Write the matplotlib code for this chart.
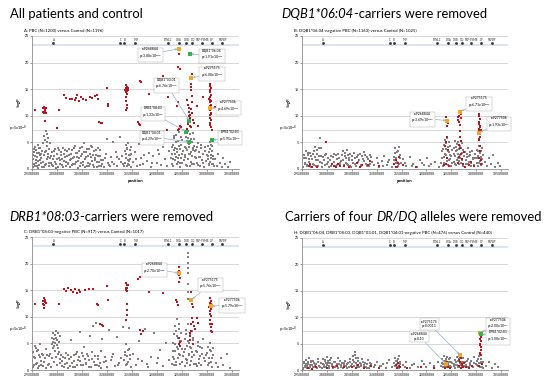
import matplotlib
matplotlib.use('Agg')
import matplotlib.pyplot as plt
import matplotlib.transforms as mtransforms

# ---- data (position in Mb, -log10 p) ----
gray_a = [(29.52,0.3),(29.53,1.8),(29.54,3.2),(29.55,0.9),(29.56,2.5),(29.57,4.1),(29.58,1.2),(29.59,3.6),(29.60,0.5),(29.61,2.2),
          (29.62,4.6),(29.63,1.5),(29.64,3.0),(29.65,0.8),(29.66,2.7),(29.67,3.9),(29.68,1.1),(29.69,2.0),(29.70,0.4),(29.71,3.3),
          (29.72,1.4),(29.73,4.8),(29.74,2.6),(29.75,6.2),(29.76,0.7),(29.77,5.5),(29.78,3.4),(29.79,7.1),(29.80,1.9),(29.80,6.6),
          (29.81,4.3),(29.82,2.8),(29.83,5.9),(29.84,0.6),(29.85,3.7),(29.86,2.1),(29.87,4.9),
          (29.89,1.2),(29.91,3.1),(29.93,0.5),(29.95,2.4),(29.97,3.8),(29.99,1.0),(30.01,2.9),(30.03,0.3),(30.05,3.5),(30.07,1.7),
          (30.09,2.6),(30.11,0.8),(30.13,4.0),(30.15,1.5),(30.17,2.2),(30.19,0.6),(30.21,3.3),(30.23,1.1),(30.25,2.7),(30.27,0.4),(30.29,1.9),
          (30.31,3.6),(30.33,0.9),(30.35,2.3),(30.37,4.4),(30.39,1.4),(30.41,3.0),(30.43,0.2),(30.45,2.0),(30.47,3.9),(30.49,1.2),
          (30.51,2.8),(30.53,0.7),(30.55,4.8),(30.57,1.8),(30.59,3.2),(30.61,0.5),(30.63,2.5),(30.65,3.7),(30.67,1.0),(30.69,2.2),
          (30.71,4.1),(30.73,0.8),(30.75,3.4),(30.77,1.6),(30.79,2.6),(30.81,0.3),(30.83,3.9),(30.85,1.3),(30.87,2.4),(30.89,0.6),
          (30.92,1.7),(30.95,0.4),(30.98,2.9),(31.01,5.6),(31.03,1.2),(31.06,0.6),(31.09,2.3),(31.12,5.1),(31.15,1.0),(31.18,3.1),
          (31.21,0.5),(31.24,1.8),(31.27,6.0),(31.30,2.5),(31.33,0.9),
          (31.36,3.3),(31.37,1.2),(31.38,4.6),(31.39,2.1),(31.40,0.5),(31.41,3.8),(31.42,1.6),(31.43,4.9),(31.44,2.7),(31.45,0.8),
          (31.46,3.5),(31.47,1.9),(31.48,2.9),(31.49,0.4),
          (31.52,1.3),(31.56,3.2),(31.60,0.6),(31.64,4.7),(31.68,2.0),(31.72,0.9),(31.76,5.8),(31.80,1.5),(31.84,3.0),(31.88,0.4),
          (31.92,2.4),(31.96,6.3),(32.00,1.1),(32.04,2.8),(32.08,0.7),(32.12,4.2),(32.16,1.8),(32.20,0.5),(32.24,3.4),
          (32.30,1.0),(32.31,2.9),(32.32,4.6),(32.33,0.6),(32.34,3.5),(32.35,5.8),(32.36,1.7),(32.37,4.0),(32.38,2.3),(32.39,6.4),
          (32.40,0.9),(32.41,3.1),(32.42,5.2),(32.43,1.4),(32.44,2.6),(32.45,6.9),(32.46,3.8),(32.47,0.3),(32.48,4.5),(32.49,2.0),
          (32.50,5.5),(32.51,1.2),(32.52,3.3),
          (32.55,1.6),(32.56,4.2),(32.57,2.7),(32.58,6.1),(32.59,0.8),(32.60,3.6),(32.61,5.3),(32.62,1.9),(32.63,7.2),(32.64,2.9),
          (32.65,4.7),(32.66,0.5),(32.67,6.5),(32.68,3.2),(32.69,1.3),(32.70,5.0),(32.71,2.4),(32.72,6.8),(32.73,3.9),(32.74,1.0),
          (32.75,4.4),(32.76,2.2),
          (32.78,3.5),(32.80,1.1),(32.82,4.8),(32.84,2.3),(32.86,0.6),(32.88,3.9),(32.90,1.7),(32.92,2.9),(32.94,0.4),(32.96,4.2),
          (32.98,1.5),(33.00,2.6),
          (33.02,1.9),(33.03,4.3),(33.04,0.7),(33.05,3.1),(33.06,5.0),(33.07,1.3),(33.08,2.7),(33.09,4.6),(33.10,0.9),(33.11,3.4),
          (33.12,1.8),(33.13,2.4),(33.14,0.5),
          (33.17,1.9),(33.20,0.6),(33.23,2.8),(33.26,1.2),(33.30,0.4),(33.33,2.1),(33.37,1.0),(33.42,0.3),(33.47,1.4),
          (29.51,1.1),(29.53,2.6),(29.55,3.8),(29.57,0.6),(29.59,1.7),(29.61,3.0),(29.63,0.2),(29.65,4.0),(29.67,1.6),(29.69,2.9),
          (29.74,0.3),(29.76,3.1),(29.78,1.0),(29.81,5.0),(29.83,2.3),(29.85,1.2),(29.88,2.5),(29.90,0.8),(29.92,1.9),(29.94,3.4),
          (29.96,1.3),(29.98,0.2),(30.00,1.8),(30.02,3.9),(30.04,2.0),(30.06,0.9),(30.08,3.2),(30.10,1.9),(30.12,0.3),(30.14,2.8),
          (30.16,3.6),(30.18,1.4),(30.20,2.5),(30.22,0.9),(30.24,3.7),(30.26,1.6),(30.28,2.9),(30.30,0.7),(30.32,2.1),(30.34,4.0),
          (30.36,1.0),(30.38,3.0),(30.40,2.2),(30.42,1.5),(30.44,3.4),(30.46,0.6),(30.48,2.5),(30.50,4.2),(30.52,1.4),(30.54,3.1),
          (30.56,0.4),(30.58,2.2),(30.60,3.8),(30.62,1.2),(30.64,0.6),(30.66,2.9),(30.68,4.3),(30.70,1.5),(30.72,2.7),(30.74,0.3),
          (30.76,2.0),(30.78,3.5),(30.80,1.3),(30.82,2.4),(30.84,0.5),(30.86,3.6),(30.88,1.7),(30.90,0.9),(30.96,2.0),(31.04,0.8),
          (31.10,1.4),(31.20,2.2),(31.28,1.3),(31.35,0.6),(31.38,2.8),(31.40,3.9),(31.42,0.9),(31.44,1.5),(31.46,2.6),(31.48,4.1),
          (31.58,1.9),(31.66,0.8),(31.74,2.6),(31.90,1.2),(32.02,3.5),(32.28,2.0),(32.30,4.1),(32.32,1.8),(32.34,6.2),(32.36,2.9),
          (32.38,5.0),(32.40,3.8),(32.42,2.0),(32.44,4.4),(32.46,1.1),(32.48,6.0),(32.50,2.8),(32.56,2.2),(32.58,3.9),(32.60,0.5),
          (32.62,5.8),(32.64,4.1),(32.66,2.8),(32.68,5.6),(32.70,0.9),(32.72,3.6),(32.74,5.7),(32.76,3.4),(32.79,2.0),(32.81,4.1),
          (32.83,0.8),(32.85,3.1),(32.87,2.2),(32.89,4.5),(32.93,1.2),(32.97,3.3),(33.03,2.5),(33.05,1.0),(33.07,3.8),(33.09,2.1),
          (33.11,4.4),(33.13,0.9)]

red_a = [(29.57,11.1),(29.72,11.4),(29.73,10.8),(29.74,11.6),(29.75,10.5),(29.76,11.2),(29.77,10.9),(29.78,11.5),(29.79,10.6),
         (29.77,9.0),(30.05,11.1),(30.00,7.7),
         (30.14,14.0),(30.19,13.3),(30.26,13.1),(30.31,13.2),(30.36,12.9),(30.39,13.4),(30.40,13.9),(30.44,12.8),(30.48,13.6),
         (30.53,13.1),(30.58,12.9),(30.66,13.5),(30.71,13.4),(30.76,13.8),(30.80,14.0),(30.82,13.2),
         (31.03,12.2),(31.00,15.3),(31.02,11.8),(30.84,8.8),(30.88,8.7),(30.91,8.6),
         (31.38,15.7),(31.39,15.3),(31.40,15.0),(31.41,14.7),(31.39,14.4),(31.40,14.1),(31.41,15.5),(31.42,14.9),(31.38,13.5),
         (31.39,12.8),(31.40,12.0),(31.41,11.4),(31.39,11.0),(31.43,15.2),(31.37,14.8),
         (31.67,16.6),(31.69,16.4),(31.63,8.8),(31.65,8.5),(31.67,8.2),(31.85,14.1),(32.13,17.5),(32.20,7.4),(32.22,13.5),
         (32.43,19.1),(32.44,22.8),(32.45,21.6),(32.46,18.8),(32.40,11.8),(32.42,12.5),(32.44,7.6),(32.46,8.1),(32.48,7.9),(32.42,7.4),
         (32.60,12.9),(32.62,12.0),(32.64,11.4),(32.65,10.8),(32.66,10.2),(32.67,9.6),(32.63,8.5),(32.66,8.0),(32.68,7.8),(32.70,10.5),
         (32.69,11.2),(32.71,12.6),(32.70,13.8),(32.69,14.9),(32.72,9.2),(32.74,8.6),(32.61,7.5),(32.64,9.9),(32.68,15.9),(32.71,17.9),
         (32.69,15.4),(32.83,8.1),(32.80,11.8),(32.93,13.6),
         (33.06,16.0),(33.07,15.6),(33.08,15.2),(33.06,14.8),(33.07,14.4),(33.08,14.0),(33.07,13.6),(33.06,12.9),(33.07,12.5),
         (33.08,12.1),(33.06,11.8),(33.07,11.0),(33.08,10.6),(33.06,10.1),(33.07,9.6),(33.08,9.2),(33.06,8.7),(33.07,8.3),
         (33.09,7.8),(33.05,13.2),(33.09,12.8),(33.05,11.3),(33.09,10.3),(33.16,11.6),(33.10,7.3)]

gray_b = [(29.52,0.4),(29.54,2.1),(29.56,1.0),(29.58,3.3),(29.60,0.6),(29.62,2.6),(29.64,1.4),(29.66,3.0),(29.68,0.3),(29.70,1.9),
          (29.73,2.8),(29.75,0.8),(29.77,4.2),(29.79,1.6),(29.81,3.5),(29.83,0.5),(29.85,2.4),(29.87,5.8),(29.88,3.9),(29.90,1.1),
          (29.93,2.2),(29.96,0.7),(29.99,2.9),(30.02,1.3),(30.05,0.4),(30.08,2.5),(30.11,1.0),(30.14,2.8),(30.17,0.6),(30.20,1.8),
          (30.23,2.9),(30.26,0.9),(30.29,1.5),(30.32,3.3),(30.34,0.5),(30.36,2.4),(30.38,1.2),(30.40,3.6),(30.42,0.8),(30.44,2.0),
          (30.46,2.9),(30.48,0.4),(30.51,1.7),(30.54,3.0),(30.57,0.9),(30.60,2.3),(30.63,1.3),(30.66,2.8),(30.69,0.5),(30.72,1.9),
          (30.75,3.1),(30.78,1.0),(30.81,2.2),(30.84,0.6),(30.87,2.7),(30.90,1.4),
          (30.95,0.7),(31.00,2.0),(31.05,0.4),(31.10,1.5),(31.15,2.4),(31.20,0.8),(31.25,1.7),(31.30,0.3),
          (31.34,2.3),(31.36,3.9),(31.38,1.1),(31.40,3.2),(31.42,0.6),(31.44,4.1),(31.46,2.0),(31.48,1.2),
          (31.53,1.8),(31.60,0.5),(31.67,2.3),(31.74,1.0),(31.81,0.4),(31.88,1.6),(31.95,0.7),(32.02,2.0),(32.10,0.9),(32.18,1.4),(32.25,0.3),
          (32.30,1.2),(32.32,3.4),(32.33,0.6),(32.35,4.6),(32.36,2.2),(32.37,5.4),(32.38,1.0),(32.39,3.8),(32.40,2.7),(32.41,5.9),
          (32.42,1.5),(32.43,4.2),(32.44,0.8),(32.45,3.1),(32.46,5.0),(32.47,1.9),(32.48,2.6),(32.50,0.5),(32.52,3.5),
          (32.55,1.3),(32.56,4.0),(32.57,2.4),(32.58,5.3),(32.59,0.7),(32.60,3.3),(32.61,4.7),(32.62,1.6),(32.63,2.9),(32.64,5.1),
          (32.65,0.9),(32.66,3.7),(32.67,2.0),(32.68,4.4),(32.70,1.1),(32.71,3.0),(32.72,4.9),(32.73,0.6),(32.75,2.5),
          (32.78,3.2),(32.80,0.9),(32.82,2.3),(32.84,3.9),(32.86,1.3),(32.88,2.7),(32.90,0.5),(32.92,3.4),(32.94,1.8),(32.96,0.7),(32.98,2.1),
          (33.01,1.2),(33.02,3.6),(33.03,0.6),(33.04,2.4),(33.05,4.3),(33.07,1.5),(33.08,3.0),(33.09,0.8),(33.10,2.2),(33.11,3.9),
          (33.12,1.0),(33.13,2.6),
          (33.17,1.3),(33.21,0.5),(33.25,2.0),(33.29,0.9),(33.33,2.6),(33.38,0.4),(33.43,1.1),(33.48,0.6),
          (29.51,1.5),(29.53,0.4),(29.55,2.7),(29.57,1.2),(29.59,2.0),(29.61,0.8),(29.63,3.0),(29.65,1.8),(29.67,0.5),(29.69,2.4),
          (29.72,1.0),(29.74,3.4),(29.76,2.2),(29.78,0.6),(29.80,2.9),(29.82,1.7),(29.84,4.0),(29.86,1.3),(29.89,2.5),(29.91,0.4),
          (29.94,1.6),(29.97,2.6),(30.00,0.9),(30.03,2.1),(30.06,1.6),(30.09,0.5),(30.12,2.3),(30.15,1.4),(30.18,2.6),(30.21,0.7),
          (30.24,2.0),(30.27,1.1),(30.30,2.6),(30.33,1.7),(30.35,0.8),(30.37,3.0),(30.39,2.0),(30.41,1.0),(30.43,2.7),(30.45,1.6),
          (30.47,0.6),(30.50,2.4),(30.53,1.1),(30.56,2.1),(30.59,0.6),(30.62,2.6),(30.65,1.7),(30.68,0.8),(30.71,2.4),(30.74,1.5),
          (30.77,2.6),(30.80,0.5),(30.83,1.8),(30.86,0.9),(30.89,2.2),(31.02,1.2),(31.12,0.6),(31.22,1.4),(31.35,1.6),(31.37,3.0),
          (31.39,2.1),(31.41,1.3),(31.43,3.4),(31.45,0.9),(31.47,2.6),(31.57,1.2),(31.71,0.6),(31.92,1.1),(32.06,0.5),(32.31,2.0),
          (32.33,3.7),(32.35,1.1),(32.37,2.9),(32.39,4.9),(32.41,2.1),(32.43,3.3),(32.45,1.6),(32.47,4.4),(32.49,2.4),(32.51,1.2),
          (32.56,2.8),(32.58,1.0),(32.60,4.1),(32.62,3.5),(32.64,2.1),(32.66,1.5),(32.68,2.6),(32.70,4.0),(32.72,1.7),(32.74,3.6),
          (32.79,1.6),(32.81,2.9),(32.83,1.0),(32.85,2.4),(32.87,3.2),(32.89,1.2),(32.93,2.0),(32.97,2.9),(33.02,2.0),(33.04,3.3),
          (33.06,1.2),(33.08,2.1),(33.10,3.4),(33.12,1.8)]

red_b = [(29.64,0.5),(29.66,1.0),(29.80,0.3),(29.99,5.0),(30.14,0.6),(30.18,0.3),(30.22,1.0),(30.35,0.5),(30.60,1.2),(30.66,0.4),
         (30.82,0.8),(30.86,1.5),(31.05,0.5),(31.35,0.9),(31.38,1.6),(31.41,0.4),(31.44,2.2),(31.52,0.7),(31.80,0.3),
         (29.70,0.4),(30.10,0.9),(30.26,0.5),(30.45,0.3),(30.70,0.7),(31.39,0.3),(31.43,1.1),
         (32.40,9.8),(32.41,9.3),(32.43,8.6),(32.42,8.0),(32.41,6.1),(32.40,5.1),(32.38,4.3),(32.44,3.6),(32.42,2.1),(32.39,1.0),
         (32.45,0.5),(32.36,0.8),
         (32.63,9.8),(32.64,9.3),(32.65,8.8),(32.66,10.0),(32.70,10.4),(32.69,9.5),(32.68,8.3),(32.68,7.1),(32.67,6.0),(32.69,5.3),
         (32.66,4.6),(32.68,3.9),(32.70,2.8),(32.72,1.8),(32.65,2.3),(32.74,0.9),(32.76,3.1),(32.63,1.2),(32.78,0.4),
         (33.05,10.4),(33.06,9.9),(33.07,9.4),(33.05,8.9),(33.06,8.4),(33.07,8.0),(33.05,7.6),(33.06,7.1),(33.07,6.5),(33.08,6.1),
         (33.06,5.7),(33.05,5.4),(33.08,7.8),(33.04,6.8),(33.09,7.3),(33.07,4.4),(33.08,3.3),(33.06,2.1),(33.09,1.0),(33.10,1.6),
         (32.86,0.7),(32.90,1.3),(32.95,0.5)]

gray_c = [(29.52,0.6),(29.54,2.4),(29.56,4.6),(29.58,1.2),(29.60,3.5),(29.62,0.4),(29.64,2.8),(29.66,4.9),(29.68,1.6),(29.70,3.1),
          (29.73,0.8),(29.76,2.2),(29.79,3.9),(29.82,1.0),(29.85,2.6),(29.88,0.5),
          (29.90,4.8),(29.91,6.1),(29.92,5.3),(29.93,7.0),(29.94,5.8),(29.95,4.5),(29.96,6.6),(29.97,5.0),(29.98,7.3),(29.99,6.0),
          (30.00,4.7),(30.01,5.6),(30.02,6.9),(30.03,4.2),(30.04,5.2),(30.05,3.4),(30.06,6.3),(30.07,2.0),
          (30.10,0.7),(30.13,2.5),(30.16,1.1),(30.19,3.2),(30.22,0.4),(30.25,2.0),(30.28,5.7),(30.31,1.4),(30.34,2.9),(30.37,0.6),
          (30.40,3.4),(30.43,1.8),(30.46,7.1),(30.49,0.9),(30.52,2.6),(30.55,4.4),(30.58,1.3),(30.61,3.0),(30.64,0.5),(30.67,6.4),
          (30.70,2.1),(30.73,8.3),(30.76,1.0),(30.79,8.8),(30.82,2.7),(30.85,0.8),(30.88,3.5),(30.91,5.9),(30.94,1.5),(30.97,2.4),
          (31.00,0.6),(31.04,7.6),(31.08,1.9),(31.12,3.1),(31.16,0.7),(31.20,6.2),(31.24,1.4),(31.28,2.3),(31.32,8.1),
          (31.36,2.9),(31.38,4.8),(31.40,1.2),(31.42,3.8),(31.44,7.9),(31.46,2.0),(31.48,0.5),
          (31.52,3.0),(31.58,0.9),(31.64,5.4),(31.70,1.7),(31.76,7.8),(31.82,0.6),(31.88,2.5),(31.94,6.9),(32.00,1.3),(32.06,3.7),
          (32.12,0.8),(32.18,5.1),(32.24,1.9),
          (32.32,2.4),(32.33,5.1),(32.34,0.9),(32.35,6.8),(32.36,3.6),(32.37,8.2),(32.38,1.5),(32.39,7.4),(32.40,4.3),(32.41,9.6),
          (32.42,2.2),(32.43,6.1),(32.44,8.7),(32.45,3.0),(32.46,5.5),(32.47,1.1),(32.48,7.0),(32.50,4.0),(32.52,2.6),
          (32.55,3.3),(32.56,0.7),(32.57,5.9),(32.58,2.1),(32.59,7.6),(32.60,4.5),(32.61,1.4),(32.62,8.6),(32.63,13.4),(32.63,14.6),
          (32.63,16.1),(32.63,18.3),(32.63,19.2),(32.63,20.1),(32.63,21.2),(32.63,22.0),(32.64,5.0),(32.65,2.8),(32.66,6.5),(32.67,0.9),
          (32.68,4.1),(32.70,7.3),(32.71,2.4),(32.73,5.6),(32.75,1.2),
          (32.78,3.6),(32.80,0.8),(32.82,5.2),(32.84,2.1),(32.86,4.3),(32.88,1.0),(32.90,3.1),(32.93,5.9),(32.96,1.6),(32.99,2.8),
          (33.02,0.9),(33.03,4.4),(33.05,2.3),(33.06,5.0),(33.08,1.5),(33.09,3.6),(33.11,0.6),(33.13,2.9),
          (33.18,1.4),(33.23,0.5),(33.28,2.2),(33.33,0.9),(33.40,3.0),(33.46,0.4),
          (29.51,1.6),(29.53,3.3),(29.55,0.9),(29.57,2.2),(29.59,4.1),(29.61,1.4),(29.63,3.7),(29.65,0.7),(29.67,2.5),(29.69,1.0),
          (29.72,2.8),(29.75,1.5),(29.78,0.4),(29.81,2.9),(29.84,1.2),(29.87,3.1),(29.91,2.3),(29.93,4.1),(29.95,1.5),(29.97,3.6),
          (29.99,2.5),(30.01,0.9),(30.03,3.0),(30.06,1.3),(30.08,2.8),(30.11,1.6),(30.14,0.5),(30.17,2.2),(30.20,1.4),(30.23,2.9),
          (30.26,0.8),(30.29,2.4),(30.32,0.6),(30.35,1.7),(30.38,3.0),(30.41,1.0),(30.44,2.4),(30.47,1.6),(30.50,3.2),(30.53,0.9),
          (30.56,2.0),(30.59,1.2),(30.62,2.7),(30.65,1.8),(30.68,0.6),(30.71,3.3),(30.74,1.5),(30.77,2.6),(30.80,1.0),(30.83,2.1),
          (30.86,1.4),(30.89,0.4),(30.99,1.6),(31.10,2.4),(31.22,0.9),(31.35,1.9),(31.37,3.3),(31.39,0.9),(31.41,2.6),(31.43,1.5),
          (31.45,4.0),(31.47,2.9),(31.62,2.1),(31.80,1.1),(32.03,2.2),(32.31,1.2),(32.33,3.6),(32.35,2.0),(32.37,4.9),(32.39,1.0),
          (32.41,6.4),(32.43,3.9),(32.45,7.8),(32.47,2.8),(32.49,5.5),(32.51,1.5),(32.56,4.0),(32.58,6.8),(32.60,1.9),(32.62,5.4),
          (32.64,3.1),(32.66,4.4),(32.68,1.7),(32.70,3.4),(32.72,6.0),(32.74,2.9),(32.79,1.2),(32.81,3.3),(32.83,4.6),(32.85,1.3),
          (32.87,2.6),(32.91,4.1),(32.95,2.3),(33.01,3.2),(33.04,1.4),(33.07,3.8),(33.10,2.2),(33.12,4.2)]

red_c = [(29.57,12.5),(29.72,13.0),(29.73,12.4),(29.74,13.5),(29.75,12.2),(29.76,12.8),(29.77,13.2),(29.78,12.6),(29.75,11.6),
         (30.05,12.5),(30.14,15.3),(30.18,14.8),(30.22,15.5),(30.28,15.0),(30.33,14.6),(30.36,15.2),(30.40,14.4),(30.44,15.0),
         (30.47,14.7),(30.56,15.1),(30.64,15.3),(30.73,15.2),(30.80,12.4),(30.82,12.2),(31.00,15.7),(31.03,13.1),
         (30.87,8.7),(30.90,8.5),(30.93,8.2),
         (31.39,16.3),(31.40,15.9),(31.41,15.5),(31.38,15.1),(31.40,14.8),(31.42,16.0),(31.39,15.4),(31.41,11.2),(31.40,10.3),
         (31.39,9.4),(31.40,12.5),(31.63,17.2),(31.66,17.4),(31.85,14.7),(32.13,14.4),(31.67,7.5),(31.72,7.3),(31.69,6.8),
         (32.44,19.4),(32.45,18.6),(32.44,17.8),(32.46,17.3),(32.45,16.5),(32.38,13.2),(32.40,12.8),(32.43,12.2),(32.45,4.9),
         (32.46,4.5),(32.47,5.2),(32.44,6.0),
         (32.69,14.7),(32.70,12.5),(32.72,11.8),(32.71,9.7),(32.73,9.1),(32.74,8.3),(32.68,8.6),(32.66,6.9),(32.67,6.3),(32.66,5.6),
         (32.69,7.4),(32.72,4.8),(32.80,9.7),(32.83,8.9),(32.77,7.7),
         (33.07,13.5),(33.08,13.0),(33.06,12.6),(33.07,12.0),(33.08,11.5),(33.06,11.0),(33.07,10.5),(33.08,10.1),(33.06,9.4),
         (33.07,8.7),(33.08,8.1),(33.09,7.4),(33.05,11.8),(33.09,12.4),(33.10,8.6),(33.11,7.2)]

gray_d = [(29.52,0.4),(29.54,1.3),(29.56,0.7),(29.58,1.9),(29.60,0.3),(29.62,1.1),(29.64,2.2),(29.66,0.6),(29.68,1.5),(29.70,0.9),
          (29.73,1.8),(29.76,0.5),(29.79,1.2),(29.82,2.0),(29.85,0.8),(29.88,1.4),(29.90,0.3),
          (29.93,2.1),(29.95,1.0),(29.97,1.7),(29.99,0.5),(30.01,2.5),(30.03,1.3),(30.05,0.7),(30.07,1.9),(30.10,1.1),(30.13,0.4),
          (30.16,1.6),(30.19,0.8),(30.22,2.2),(30.25,1.2),(30.28,0.5),(30.31,1.4),(30.34,0.9),(30.37,1.8),(30.40,0.4),(30.43,1.3),
          (30.46,2.0),(30.49,0.7),(30.52,2.6),(30.54,1.5),(30.56,3.4),(30.58,2.3),(30.60,0.9),(30.62,1.7),(30.65,0.5),(30.68,1.2),
          (30.71,2.1),(30.74,0.6),(30.77,1.4),(30.80,0.3),(30.83,1.9),(30.86,0.8),(30.89,1.1),
          (30.94,0.5),(31.00,1.6),(31.06,0.7),(31.12,1.2),(31.18,0.4),(31.24,1.9),(31.30,0.6),
          (31.35,1.4),(31.37,2.3),(31.39,0.8),(31.41,1.7),(31.43,0.5),(31.45,2.6),(31.47,1.1),
          (31.52,0.9),(31.60,1.5),(31.68,0.4),(31.76,1.2),(31.84,0.6),(31.92,1.8),(32.00,0.5),(32.08,1.3),(32.16,0.7),(32.24,1.6),
          (32.30,0.8),(32.32,2.0),(32.34,1.1),(32.36,2.7),(32.38,0.6),(32.40,1.8),(32.42,2.4),(32.44,0.9),(32.46,1.5),(32.48,2.2),
          (32.50,0.5),(32.52,1.3),
          (32.55,0.7),(32.57,1.9),(32.59,1.0),(32.61,2.5),(32.63,0.6),(32.65,2.1),(32.67,1.3),(32.69,0.4),(32.71,1.6),(32.73,2.3),
          (32.75,0.8),(32.78,1.5),(32.81,0.5),(32.84,2.0),(32.87,1.0),(32.90,1.7),(32.93,0.6),(32.96,2.4),(32.99,1.2),
          (33.02,1.8),(33.04,0.7),(33.06,2.6),(33.08,1.3),(33.10,2.1),(33.12,0.5),(33.14,1.6),
          (33.19,0.8),(33.25,1.5),(33.31,0.4),(33.37,1.1),(33.44,0.6),
          (29.51,0.9),(29.53,0.2),(29.55,1.6),(29.57,0.5),(29.59,1.2),(29.61,0.7),(29.63,1.5),(29.65,0.3),(29.67,1.0),(29.69,1.7),
          (29.72,0.6),(29.74,1.3),(29.77,0.9),(29.80,0.4),(29.83,1.5),(29.86,0.5),(29.92,1.2),(29.94,0.5),(29.96,1.9),(29.98,1.4),
          (30.00,0.9),(30.02,1.7),(30.04,0.4),(30.06,1.3),(30.08,2.3),(30.11,0.8),(30.14,1.5),(30.17,0.6),(30.20,1.2),(30.23,0.4),
          (30.26,1.7),(30.29,0.9),(30.32,0.3),(30.35,1.4),(30.38,0.7),(30.41,1.2),(30.44,0.5),(30.47,1.5),(30.50,1.1),(30.53,1.9),
          (30.55,0.8),(30.57,2.8),(30.59,1.4),(30.61,0.5),(30.63,2.2),(30.66,1.3),(30.69,0.7),(30.72,1.6),(30.75,1.0),(30.78,0.5),
          (30.81,1.2),(30.84,0.4),(30.87,1.4),(30.97,1.0),(31.09,0.8),(31.21,1.3),(31.36,0.7),(31.38,1.8),(31.40,1.2),(31.42,2.0),
          (31.44,0.4),(31.46,1.6),(31.56,0.5),(31.72,0.9),(31.96,1.1),(32.31,1.3),(32.33,0.5),(32.35,1.7),(32.37,1.1),(32.39,2.1),
          (32.41,0.6),(32.43,1.4),(32.45,2.0),(32.47,0.8),(32.49,1.6),(32.56,1.2),(32.58,0.4),(32.60,1.6),(32.62,1.0),(32.64,1.8),
          (32.66,0.5),(32.68,2.2),(32.70,1.0),(32.72,0.6),(32.74,1.5),(32.79,0.9),(32.82,1.7),(32.85,0.6),(32.88,1.4),(32.91,0.8),
          (32.95,1.3),(33.01,1.0),(33.03,2.0),(33.05,1.3),(33.07,0.6),(33.09,1.6),(33.11,1.1),(33.13,0.4)]

red_d = [(29.63,0.4),(29.78,0.6),(30.00,0.3),(30.20,0.8),(30.34,0.5),(30.50,0.6),(30.62,1.0),(30.75,0.4),(30.88,0.7),(31.05,0.3),
         (31.38,0.9),(31.42,1.3),(31.46,0.5),(31.62,0.4),(31.90,0.6),(32.15,0.3),
         (29.70,0.2),(30.12,0.5),(30.58,0.3),(31.40,0.4),(31.44,0.7),
         (32.38,0.4),(32.40,0.9),(32.42,1.6),(32.44,0.6),(32.47,0.3),
         (32.65,1.9),(32.66,0.8),(32.68,1.5),(32.69,0.3),(32.70,2.2),(32.71,1.2),(32.72,1.0),(32.74,0.5),(32.76,1.4),(32.80,0.6),
         (32.86,0.4),(32.92,0.8),
         (33.08,6.6),(33.09,6.2),(33.08,5.8),(33.09,5.4),(33.08,5.0),(33.07,4.7),(33.09,3.8),(33.08,3.3),(33.10,2.9),(33.07,3.0),
         (33.09,4.3),(33.11,1.2),(33.06,0.7)]

# highlighted SNPs / alleles: (position, -log p, kind, label)
hl_a = [(32.44, 22.6, 'snp', 'rs9268844\np=3.88x10$^{-23}$'),
        (32.66, 21.6, 'allele', 'DQB1*06:04\np=1.91x10$^{-21}$'),
        (32.69, 17.1, 'snp', 'rs9275175\np=6.08x10$^{-17}$'),
        (32.65, 9.0, 'allele', 'DQB1*03:01\np=6.76x10$^{-13}$'),
        (33.07, 11.4, 'snp', 'rs9277506\np=4.69x10$^{-11}$'),
        (32.59, 7.0, 'allele', 'DRB1*08:03\np=1.33x10$^{-8}$'),
        (32.65, 5.1, 'allele', 'DQB1*04:01\np=4.29x10$^{-6}$'),
        (33.10, 5.4, 'allele', 'DPB1*02:01\np=5.95x10$^{-6}$')]
hl_b = [(32.42, 9.1, 'snp', 'rs9268844\np=3.69x10$^{-10}$'),
        (32.68, 10.8, 'snp', 'rs9275175\np=6.71x10$^{-11}$'),
        (33.06, 6.8, 'snp', 'rs9277506\np=1.93x10$^{-7}$')]
hl_c = [(32.45, 18.2, 'snp', 'rs9268844\np=2.70x10$^{-18}$'),
        (32.69, 13.2, 'snp', 'rs9275175\np=5.76x10$^{-14}$'),
        (33.08, 12.0, 'snp', 'rs9277506\np=5.79x10$^{-13}$')]
hl_d = [(32.39, 1.2, 'snp', 'rs9268844\np=0.10'),
        (32.68, 2.8, 'snp', 'rs9275175\np=0.0013'),
        (33.08, 7.1, 'snp', 'rs9277506\np=2.00x10$^{-7}$'),
        (33.09, 6.8, 'allele', 'DPB1*02:01\np=1.08x10$^{-7}$')]

genes = ['A', 'C', 'B', 'TNF', 'BTNL2', 'DRA', 'DRB', 'DQ', 'TAP-PSMB', 'DP', 'TAPBP']
gene_pos = [29.93, 31.27, 31.35, 31.57, 32.22, 32.44, 32.59, 32.71, 32.90, 33.10, 33.31]

xticks = [29.5, 30.0, 30.5, 31.0, 31.5, 32.0, 32.5, 33.0, 33.5]

# box positions of the callouts (data coords), per panel
box_a = [(31.87, 21.6), (33.10, 21.4), (33.10, 18.0), (32.19, 15.9), (33.43, 11.7), (31.92, 10.5), (31.90, 6.0), (33.46, 6.0)]
box_b = [(31.92, 9.5), (33.06, 12.4), (33.46, 8.7)]
box_c = [(31.95, 19.0), (33.07, 16.1), (33.50, 12.3)]
box_d = [(31.86, 6.3), (32.06, 8.7), (33.44, 8.6), (33.44, 6.3)]

GRAY = '#857e7e'
RED = '#c0141c'
ORANGE = '#f5a623'
GREEN = '#2eb34d'

plt.rcParams['font.family'] = ['Lato', 'DejaVu Sans']

fig = plt.figure(figsize=(5.47, 3.80), dpi=100)
bg = fig.add_axes([0, 0, 1, 1])
bg.axis('off')


def title(x, y, parts):
    t = bg.text(x, y, parts[0][0], style=parts[0][1], fontsize=9.4,
                transform=bg.transAxes, va='bottom', ha='left')
    for s, st in parts[1:]:
        t = bg.annotate(s, xy=(1, 0), xycoords=t, va='bottom', ha='left',
                        style=st, fontsize=9.4)


def panel(rect, sub, gray, red, hl, boxes):
    ax = fig.add_axes(rect)
    gx, gy = zip(*gray)
    rx, ry = zip(*red)
    ax.scatter(gx, gy, s=4.5, marker='s', color=GRAY, lw=0, zorder=2)
    ax.scatter(rx, ry, s=4.5, marker='s', color=RED, lw=0, zorder=3)
    for (px, py, kind, lab), (bx, by) in zip(hl, boxes):
        ax.scatter([px], [py], s=7, marker='s', lw=0, zorder=4,
                   color=ORANGE if kind == 'snp' else GREEN)
        ax.annotate(lab, xy=(px, py), xytext=(bx, by), fontsize=2.4,
                    ha='center', va='center', annotation_clip=False, zorder=5,
                    bbox=dict(boxstyle='square,pad=0.4', fc='white', ec='#a6a6a6', lw=0.3),
                    arrowprops=dict(arrowstyle='->', color='#8fb3dc', lw=0.5,
                                    mutation_scale=3, shrinkA=0, shrinkB=1))
    ax.set_xlim(29.5, 33.64)
    ax.set_ylim(0, 25)
    for v in [5, 10, 15, 20, 25]:
        ax.axhline(v, color='#c8c8c8', lw=0.5, zorder=1)
    ax.axhline(7.3, color='#c8c8c8', lw=0.5, zorder=1)
    ax.axhspan(23.15, 23.45, color='#dbe5f1', lw=0, zorder=1)
    for g, p in zip(genes, gene_pos):
        ax.text(p, 24.3, g, fontsize=2.0, ha='center', va='center', color='#333333')
        ax.plot([p], [23.7], marker='s', ms=0.9, color='#333333', lw=0)
    ax.set_xticks(xticks)
    ax.set_xticklabels([str(int(round(v * 1e6))) for v in xticks], fontsize=2.4, fontweight='bold')
    ax.set_yticks([0, 5, 10, 15, 20, 25])
    ax.set_yticklabels(['0', '5', '10', '15', '20', '25'], fontsize=2.6, fontweight='bold')
    ax.tick_params(length=1.2, width=0.4, pad=1, colors='#444444')
    trans = mtransforms.blended_transform_factory(ax.transAxes, ax.transData)
    ax.text(-0.025, 7.6, 'p=5x10$^{-8}$', transform=trans, fontsize=2.6, ha='right', va='center')
    ax.set_ylabel('-logP', fontsize=3, fontweight='bold', labelpad=3)
    ax.set_xlabel('position', fontsize=3.2, fontweight='bold', labelpad=2)
    for s in ['top', 'right']:
        ax.spines[s].set_visible(False)
    for s in ['left', 'bottom']:
        ax.spines[s].set_color('#8c8c8c')
        ax.spines[s].set_linewidth(0.6)
    ax.set_title(sub, fontsize=3.1, loc='left', x=-0.04, pad=3)
    return ax


panel([0.0585, 0.5553, 0.3784, 0.35], 'A: PBC (N=1200) versus Control (N=1196)',
      gray_a, red_a, hl_a, box_a)
panel([0.5521, 0.5553, 0.3766, 0.35], 'B: DQB1*06:04-negative PBC (N=1163) versus Control (N=1025)',
      gray_b, red_b, hl_b, box_b)
panel([0.0585, 0.0263, 0.3784, 0.35], 'C: DRB1*08:03-negative PBC (N=917) versus Control (N=1017)',
      gray_c, red_c, hl_c, box_c)
panel([0.5521, 0.0263, 0.3766, 0.3474],
      'H: DQB1*06:04, DRB1*08:03, DQB1*03:01, DQB1*04:01-negative PBC (N=476) versus Control (N=440)',
      gray_d, red_d, hl_d, box_d)

title(0.018, 0.947, [('All patients and control', 'normal')])
title(0.515, 0.947, [('DQB1*06:04', 'italic'), ('-carriers were removed', 'normal')])
title(0.018, 0.412, [('DRB1*08:03', 'italic'), ('-carriers were removed', 'normal')])
title(0.521, 0.412, [('Carriers of four ', 'normal'), ('DR/DQ', 'italic'), (' alleles were removed', 'normal')])

fig.savefig('out.png', dpi=100)
